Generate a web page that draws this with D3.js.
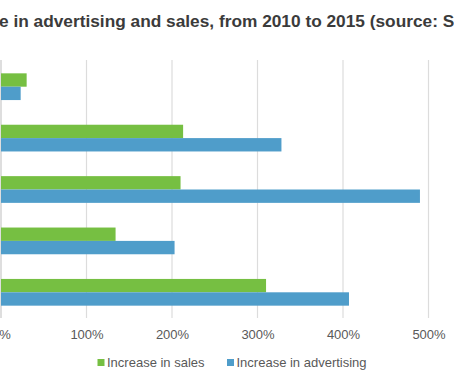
<!DOCTYPE html>
<html>
<head>
<meta charset="utf-8">
<script src="https://cdn.jsdelivr.net/npm/d3@7"></script>
<style>
  html, body { margin: 0; padding: 0; background: #fff; overflow: hidden; }
  svg { display: block; }
</style>
</head>
<body>
<svg id="chart" width="454" height="379"></svg>
<script>
const titleText = "e in advertising and sales, from 2010 to 2015 (source: S";
const categories = ["Group 1", "Group 2", "Group 3", "Group 4", "Group 5"];
const salesIncrease = [30, 213, 210, 134, 310];
const advertisingIncrease = [23, 328, 490, 203, 407];
const seriesNames = ["Increase in sales", "Increase in advertising"];
const tickValues = [0, 100, 200, 300, 400, 500];

const colors = ["#76bf42", "#4f9dca"];
const svg = d3.select("#chart");

const x = d3.scaleLinear().domain([0, 500]).range([1, 428.5]);
const y = d3.scaleBand().domain(categories).range([61, 318]).paddingInner(0.48).paddingOuter(0.24);
const sub = d3.scaleBand().domain([0, 1]).range([0, y.bandwidth()]);

// title
svg.append("text")
  .attr("x", -1).attr("y", 27)
  .attr("font-family", "Liberation Sans, Arial, sans-serif")
  .attr("font-size", 17.3).attr("font-weight", "bold")
  .attr("fill", "#3b3b3b")
  .text(titleText);

// gridlines
svg.append("g").selectAll("line").data(tickValues).join("line")
  .attr("x1", d => x(d)).attr("x2", d => x(d))
  .attr("y1", 60).attr("y2", 318)
  .attr("stroke", d => d === 0 ? "#c8c8c8" : "#dcdcdc")
  .attr("stroke-width", 1.2);

// bars
const seriesData = [salesIncrease, advertisingIncrease];
seriesData.forEach((vals, si) => {
  svg.append("g").selectAll("rect").data(vals).join("rect")
    .attr("x", x(0))
    .attr("y", (d, i) => y(categories[i]) + sub(si))
    .attr("width", d => x(d) - x(0))
    .attr("height", sub.bandwidth())
    .attr("fill", colors[si]);
});

// x axis labels
const axis = d3.axisBottom(x).tickValues(tickValues).tickFormat(d => d + "%").tickSize(0).tickPadding(0);
const ax = svg.append("g").attr("transform", "translate(0,330)").call(axis);
ax.select(".domain").remove();
ax.selectAll("text")
  .attr("font-family", "Liberation Sans, Arial, sans-serif")
  .attr("font-size", 13).attr("fill", "#595959")
  .attr("dy", "0.71em");

// legend
const legendX = [97.5, 227];
const lg = svg.append("g").selectAll("g").data(seriesNames).join("g")
  .attr("transform", (d, i) => `translate(${legendX[i]},359)`);
lg.append("rect").attr("width", 7).attr("height", 7).attr("fill", (d, i) => colors[i]);
lg.append("text").attr("x", 9.5).attr("y", 7.5)
  .attr("font-family", "Liberation Sans, Arial, sans-serif")
  .attr("font-size", 13).attr("fill", "#595959")
  .text(d => d);
</script>
</body>
</html>
